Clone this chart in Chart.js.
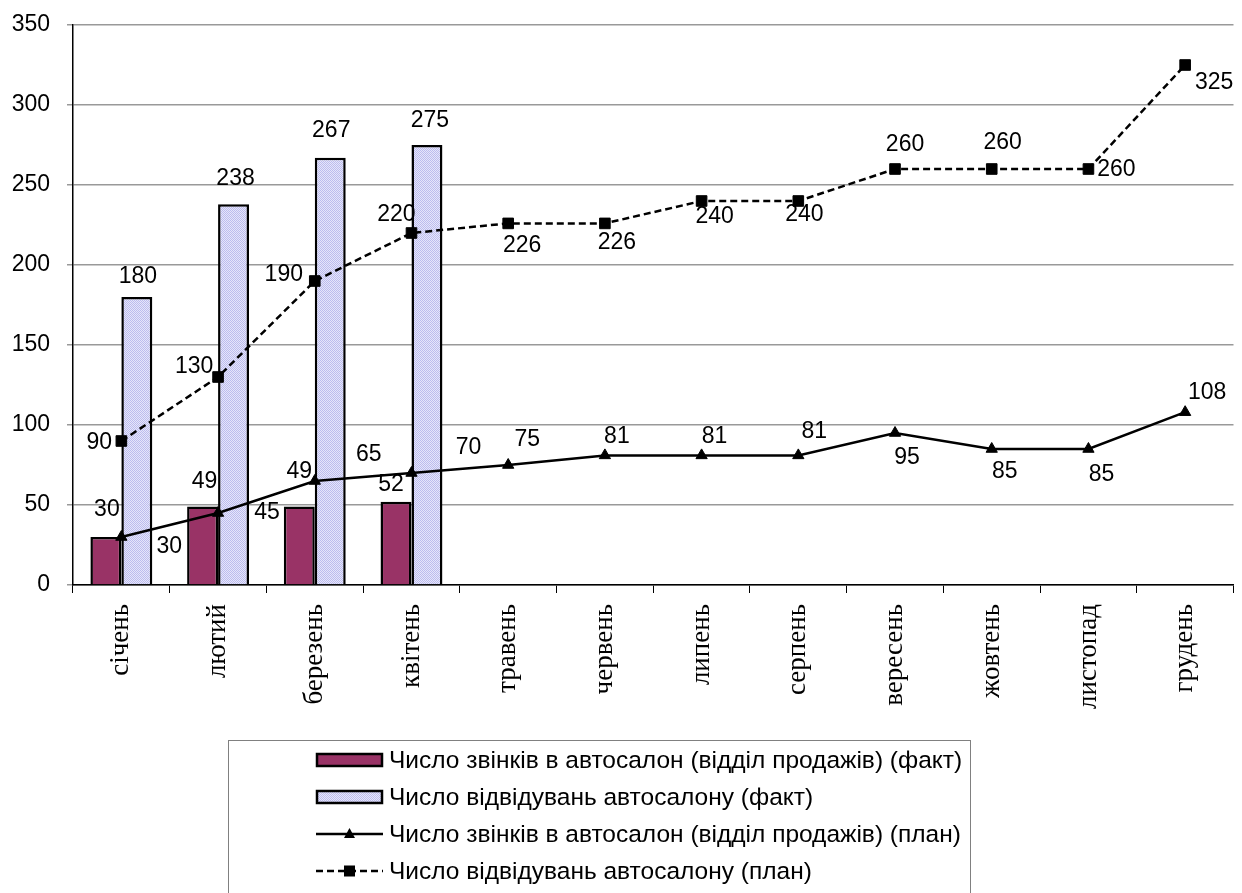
<!DOCTYPE html>
<html>
<head>
<meta charset="utf-8">
<script src="https://cdn.jsdelivr.net/npm/chart.js@4"></script>
<style>
  body { margin: 0; background: #fff; }
  canvas { display: block; }
</style>
</head>
<body>
<canvas id="chart" width="1242" height="893"></canvas>
<script>
// Data
const months = ["січень", "лютий", "березень", "квітень", "травень", "червень",
                "липень", "серпень", "вересень", "жовтень", "листопад", "грудень"];
const callsFact = [30, 49, 49, 52, null, null, null, null, null, null, null, null];
const visitsFact = [180, 238, 267, 275, null, null, null, null, null, null, null, null];
const callsPlan = [30, 45, 65, 70, 75, 81, 81, 81, 95, 85, 85, 108];
const visitsPlan = [90, 130, 190, 220, 226, 226, 240, 240, 260, 260, 260, 325];
const yTicks = [0, 50, 100, 150, 200, 250, 300, 350];

const seriesNames = [
    "Число звінків в автосалон (відділ продажів) (факт)",
    "Число відвідувань автосалону (факт)",
    "Число звінків в автосалон (відділ продажів) (план)",
    "Число відвідувань автосалону (план)",
];

// where each value label sits relative to its point (px)
const labelOffsets = [
    [[1, -27], [2, -25], [0, -35], [-5, -17]],
    [[1, -20], [2, -26], [1, -27], [3, -24]],
    [[48, 10], [49, 0], [54, -26], [57, -25], [19, -25], [12, -19], [13, -19], [16, -24],
     [12, 25], [13, 23], [13, 26], [22, -20]],
    [[-22, 2], [-24, -10], [-31, -6], [-15, -18], [14, 22], [12, 19], [13, 16], [6, 14],
     [10, -24], [11, -26], [28, 1], [29, 18]],
];

const LABEL_FONT = "23px 'Liberation Sans', Arial, sans-serif";

// dotted lavender fill for the visits bars
function makePattern() {
    const c = document.createElement("canvas");
    c.width = 2;
    c.height = 2;
    const g = c.getContext("2d");
    g.fillStyle = "#e6e6fa";
    g.fillRect(0, 0, 2, 2);
    g.fillStyle = "#bcbcee";
    g.fillRect(0, 0, 1, 1);
    g.fillRect(1, 1, 1, 1);
    return g.createPattern(c, "repeat");
}
const lavender = makePattern();

const valueLabels = {
    id: "valueLabels",
    afterDatasetsDraw(chart) {
        const ctx = chart.ctx;
        ctx.save();
        ctx.font = LABEL_FONT;
        ctx.fillStyle = "#000";
        ctx.textAlign = "center";
        ctx.textBaseline = "middle";
        chart.data.datasets.forEach((ds, di) => {
            const meta = chart.getDatasetMeta(di);
            meta.data.forEach((el, i) => {
                const v = ds.data[i];
                if (v === null || v === undefined) return;
                const off = labelOffsets[di][i] || [0, -20];
                ctx.fillText(String(v), el.x + off[0], el.y + off[1]);
            });
        });
        ctx.restore();
    },
};

// boxed legend under the axis labels
const boxLegend = {
    id: "boxLegend",
    afterDraw(chart) {
        const ctx = chart.ctx;
        const ds = chart.data.datasets;
        ctx.save();
        ctx.strokeStyle = "#808080";
        ctx.lineWidth = 1;
        ctx.strokeRect(228.5, 740.5, 742, 170);

        ctx.font = "24.5px 'Liberation Sans', Arial, sans-serif";
        ctx.textBaseline = "middle";
        const rows = [760, 797, 834, 871];
        [0, 1, 2, 3].forEach((k) => {
            const y = rows[k];
            const d = ds[k];
            if (d.type === "bar") {
                ctx.fillStyle = d.backgroundColor;
                ctx.fillRect(317, y - 6, 65, 12);
                ctx.strokeStyle = "#000";
                ctx.lineWidth = 2.5;
                ctx.strokeRect(317, y - 6, 65, 12);
            } else {
                ctx.strokeStyle = "#000";
                ctx.lineWidth = 2.5;
                ctx.setLineDash(d.borderDash || []);
                ctx.beginPath();
                ctx.moveTo(316, y);
                ctx.lineTo(383, y);
                ctx.stroke();
                ctx.setLineDash([]);
                ctx.fillStyle = "#000";
                ctx.beginPath();
                if (d.pointStyle === "triangle") {
                    ctx.moveTo(349.5, y - 6);
                    ctx.lineTo(355, y + 4);
                    ctx.lineTo(344, y + 4);
                    ctx.closePath();
                    ctx.fill();
                } else {
                    ctx.fillRect(344, y - 5.5, 11, 11);
                }
            }
            ctx.fillStyle = "#000";
            ctx.textAlign = "left";
            ctx.fillText(d.label, 389, y + 1);
        });
        ctx.restore();
    },
};

const ctx = document.getElementById("chart").getContext("2d");

new Chart(ctx, {
    data: {
        labels: months,
        datasets: [
            {
                type: "bar",
                label: seriesNames[0],
                data: callsFact,
                backgroundColor: "#993366",
                borderColor: "#000",
                borderWidth: 2.5,
                barPercentage: 1,
                categoryPercentage: 0.64,
                order: 2,
            },
            {
                type: "bar",
                label: seriesNames[1],
                data: visitsFact,
                backgroundColor: lavender,
                borderColor: "#000",
                borderWidth: 2.5,
                barPercentage: 1,
                categoryPercentage: 0.64,
                order: 2,
            },
            {
                type: "line",
                label: seriesNames[2],
                data: callsPlan,
                borderColor: "#000",
                borderWidth: 2.5,
                pointStyle: "triangle",
                pointRadius: 6.5,
                pointBackgroundColor: "#000",
                pointBorderColor: "#000",
                pointBorderWidth: 1,
                tension: 0,
                order: 1,
            },
            {
                type: "line",
                label: seriesNames[3],
                data: visitsPlan,
                borderColor: "#000",
                borderWidth: 2.5,
                borderDash: [7, 4],
                pointStyle: "rect",
                pointRadius: 7.5,
                pointBackgroundColor: "#000",
                pointBorderColor: "#000",
                pointBorderWidth: 1,
                tension: 0,
                order: 1,
            },
        ],
    },
    options: {
        responsive: false,
        animation: false,
        layout: { padding: { top: 25, right: 2, left: 0, bottom: 0 } },
        plugins: {
            legend: { display: false },
            tooltip: { enabled: false },
        },
        scales: {
            x: {
                offset: true,
                grid: {
                    offset: true,
                    drawOnChartArea: false,
                    drawTicks: true,
                    tickLength: 8,
                    color: "#000",
                    lineWidth: 1,
                },
                border: { color: "#000", width: 1.5 },
                ticks: {
                    minRotation: 90,
                    maxRotation: 90,
                    autoSkip: false,
                    padding: 11,
                    color: "#000",
                    font: { family: "'Liberation Serif', 'Times New Roman', serif", size: 27 },
                },
                afterFit(scale) { scale.height = 308; },
            },
            y: {
                min: 0,
                max: 350,
                afterBuildTicks(scale) { scale.ticks = yTicks.map((v) => ({ value: v })); },
                grid: {
                    color: "#999999",
                    lineWidth: 1.5,
                    tickLength: 6,
                },
                border: { color: "#000", width: 1.5 },
                ticks: {
                    padding: 17,
                    color: "#000",
                    font: { family: "'Liberation Sans', Arial, sans-serif", size: 23 },
                },
                afterFit(scale) {
                    scale.width = 73;
                    // tick padding should not push the plot down
                    scale.paddingTop = 14;
                    scale.paddingBottom = 14;
                },
            },
        },
    },
    plugins: [valueLabels, boxLegend],
});
</script>
</body>
</html>
